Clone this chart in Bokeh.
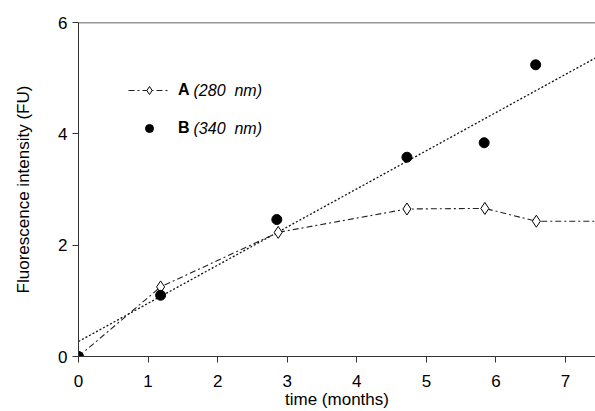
from bokeh.plotting import figure
from bokeh.models import (ColumnDataSource, Legend, LegendItem, Label, Span,
                          FixedTicker, Range1d)
from bokeh.embed import file_html
from bokeh.resources import INLINE

# ---- data ----
time_a = [0.0, 1.18, 2.87, 4.72, 5.84, 6.58, 7.6]
fluor_a = [0.0, 1.25, 2.23, 2.65, 2.66, 2.43, 2.43]

time_b = [0.0, 1.18, 2.85, 4.72, 5.83, 6.57, 7.6]
fluor_b = [0.0, 1.10, 2.46, 3.58, 3.84, 5.24, 5.12]

trend_x = [0.0, 7.6]
trend_y = [0.27, 5.48]

x_ticks = [0, 1, 2, 3, 4, 5, 6, 7]
y_ticks = [0, 2, 4, 6]

FONT = "Liberation Sans"

p = figure(width=595, height=411, output_backend="svg", toolbar_location=None,
           x_range=Range1d(0, 7.43), y_range=Range1d(0, 6),
           min_border_left=78, min_border_top=22, min_border_bottom=55,
           min_border_right=0)
p.outline_line_color = None
p.grid.grid_line_color = None
p.background_fill_color = "white"
p.border_fill_color = "white"

for ax in (p.xaxis[0], p.yaxis[0]):
    ax.axis_line_color = "#333333"
    ax.major_tick_line_color = "#333333"
    ax.major_tick_out = 6
    ax.major_tick_in = 0
    ax.minor_tick_line_color = None
    ax.major_label_text_font = FONT
    ax.major_label_text_font_size = "17px"
    ax.major_label_text_color = "black"
    ax.axis_label_text_font = FONT
    ax.axis_label_text_font_size = "17px"
    ax.axis_label_text_font_style = "normal"
    ax.axis_label_text_color = "black"

p.xaxis.ticker = FixedTicker(ticks=x_ticks)
p.yaxis.ticker = FixedTicker(ticks=y_ticks)
p.xaxis.axis_label = "time (months)"
p.yaxis.axis_label = "Fluorescence intensity (FU)"
p.xaxis.major_label_standoff = 12
p.xaxis.axis_label_standoff = 0
p.yaxis.major_label_standoff = 5
p.yaxis.axis_label_standoff = 22

p.add_layout(Span(location=6, dimension="width", line_color="#333333", line_width=1.5))

src_a = ColumnDataSource(dict(x=time_a, y=fluor_a))
src_b = ColumnDataSource(dict(x=time_b, y=fluor_b))
src_t = ColumnDataSource(dict(x=trend_x, y=trend_y))

p.line("x", "y", source=src_t, line_color="#111111", line_width=1.3, line_dash="2 2")
la = p.line("x", "y", source=src_a, line_color="#222222", line_width=1.1, line_dash="6 3 2 3")
sa = p.scatter("x", "y", source=src_a, marker="diamond", size=12,
               fill_color="white", line_color="black", line_width=1)
sb = p.scatter("x", "y", source=src_b, marker="circle", size=10,
               fill_color="black", line_color="black")

legend = Legend(items=[LegendItem(label="A", renderers=[la, sa]),
                       LegendItem(label="B", renderers=[sb])],
                location=(50, 218), orientation="vertical",
                glyph_width=42, glyph_height=20, label_height=20, spacing=18,
                label_standoff=8, padding=0, margin=0,
                border_line_color=None, background_fill_alpha=0,
                label_text_font=FONT, label_text_font_size="16px",
                label_text_font_style="bold", label_text_color="black")
p.add_layout(legend, "center")

for txt, yy in (("(280\u00a0\u00a0nm)", 266), ("(340\u00a0\u00a0nm)", 228)):
    p.add_layout(Label(x=115, y=yy, x_units="screen", y_units="screen", text=txt,
                       text_font=FONT, text_font_size="16px", text_font_style="italic",
                       text_baseline="middle", text_color="black"))

open("out.html", "w").write(file_html(p, INLINE))
